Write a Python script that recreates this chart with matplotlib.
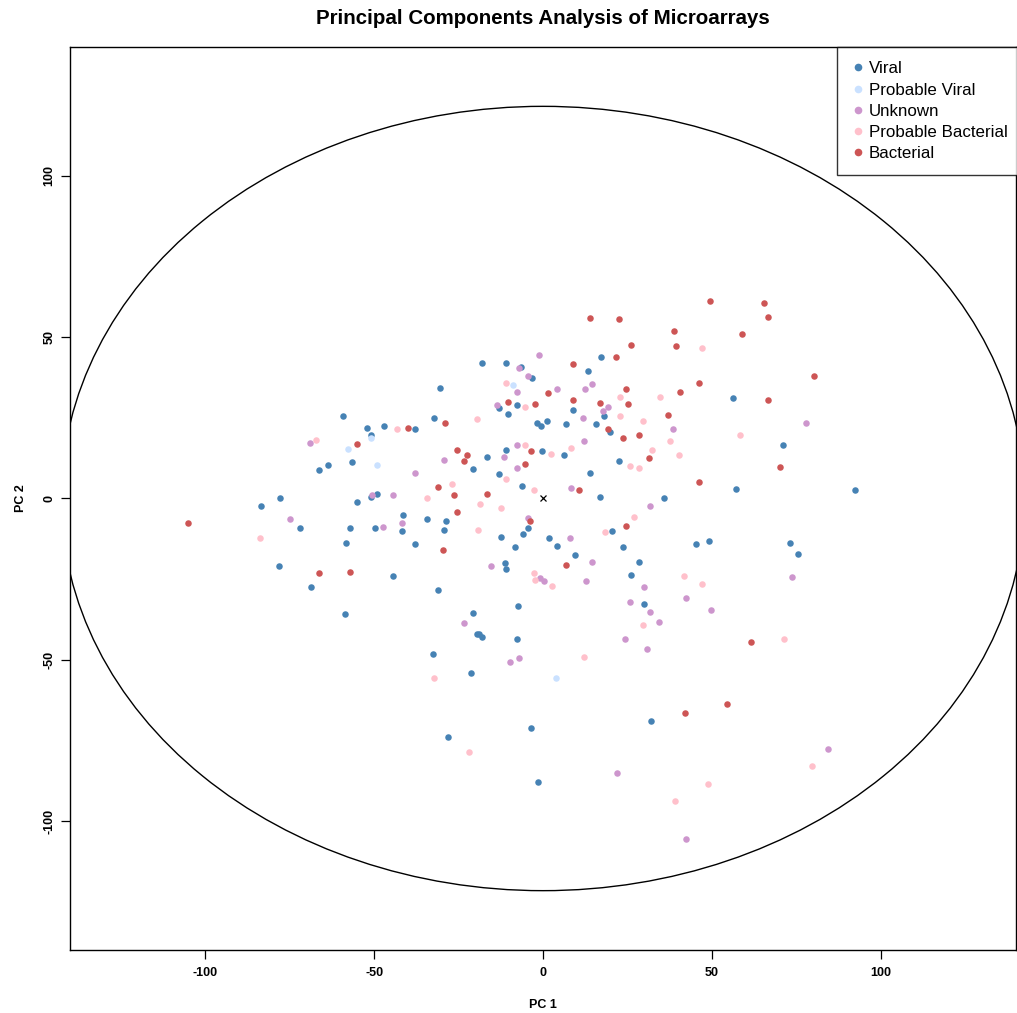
import matplotlib
matplotlib.use("Agg")
import matplotlib.pyplot as plt
from matplotlib.patches import Ellipse
from matplotlib.lines import Line2D
import numpy as np

plt.rcParams['font.family'] = ['Liberation Sans', 'DejaVu Sans']

categories = ["Viral", "Probable Viral", "Unknown", "Probable Bacterial", "Bacterial"]
colors = ["#4682B4", "#CAE1FF", "#CD96CD", "#FFC0CB", "#CD5555"]

viral_x = [-59.3, -52.2, -47.2, -51.0, -56.4, -63.5, -66.3,
           17.2, -18.2, -10.9, -6.5, 13.2, -3.2, -30.6, -13.0, -7.8, 18.1, -10.3, 8.9, -32.2,
           -38.0, -1.7, -0.7, 1.2, 6.7, 15.7, 19.7, -10.9, -0.3, 6.1, -16.7, 22.4, -20.7, -13.0, 13.8,
           56.1, 70.9,
           -77.7, -83.6, -51.0, -49.0, -55.2, -71.9, -57.1, -49.7, -41.3, -41.6, -58.3, -78.0, -44.4,
           -68.7, -58.6,
           -6.2, 16.9, -34.2, -28.7, -29.3, -4.3, -5.9, -12.3, -8.4, 1.8, 4.2, 20.3, 23.7, -38.0, 9.5,
           -11.2, -10.9, 28.3, 26.1, -31.2, -7.5, -20.7, -19.5, -18.8, -18.2, -7.8, -32.7,
           57.0, 92.4, 35.7, 45.3, 49.0, 73.1, 75.5, 29.9,
           -21.3, -3.5, -28.1, -1.6, 32.0]
viral_y = [25.6, 22.0, 22.4, 19.6, 11.4, 10.4, 8.7,
           43.8, 42.1, 42.1, 40.8, 39.5, 37.3, 34.4, 28.0, 28.9, 25.6, 26.3, 27.5, 24.9,
           21.4, 23.4, 22.5, 24.0, 23.1, 23.1, 20.7, 15.0, 14.6, 13.4, 13.0, 11.7, 9.1, 7.5, 7.9,
           31.1, 16.6,
           0.3, -2.2, 0.6, 1.3, -1.2, -9.0, -9.3, -9.0, -5.2, -10.0, -13.9, -21.0, -23.9,
           -27.4, -35.9,
           3.9, 0.6, -6.4, -7.1, -9.7, -9.1, -11.0, -12.0, -14.9, -12.3, -14.6, -10.0, -14.9, -14.2, -17.5,
           -20.1, -22.0, -19.7, -23.6, -28.5, -33.3, -35.6, -41.9, -41.9, -43.0, -43.7, -48.1,
           2.9, 2.6, 0.3, -14.2, -13.3, -13.9, -17.1, -32.6,
           -54.0, -71.2, -73.8, -88.0, -68.9]

prob_viral_x = [-50.9, -57.7, -49.0, -9.0, 3.9]
prob_viral_y = [18.7, 15.2, 10.4, 35.3, -55.7]

unknown_x = [-69.1,
             -1.3, -7.1, -4.3, 4.2, 12.3, 14.4, -7.8, -13.6, 19.3, 17.8, 11.9, 12.2, -7.8, -11.4, -29.4,
             -7.8, -38.0,
             38.5, 77.9,
             -50.6, -44.4, -74.9, -47.5, -41.6,
             8.3, -4.3, 8.0, -15.5, 14.4, -1.0, 0.3, 12.6, 25.8, -23.5, 24.4, -7.1,
             31.8, 73.7, 29.9, 42.2, 49.6, 31.8, 34.2, 30.8,
             -9.9, 21.9, 84.4, 42.2]
unknown_y = [17.2,
             44.4, 40.5, 37.9, 33.8, 34.1, 35.6, 33.0, 28.9, 28.5, 27.2, 24.9, 17.8, 16.6, 13.0, 12.0,
             9.4, 7.8,
             21.7, 23.3,
             1.0, 1.0, -6.4, -8.7, -7.5,
             3.3, -6.1, -12.3, -21.0, -19.7, -24.8, -25.6, -25.6, -32.0, -38.5, -43.7, -49.4,
             -2.3, -24.2, -27.4, -30.7, -34.6, -35.2, -38.2, -46.6,
             -50.8, -85.1, -77.6, -105.5]

prob_bact_x = [-43.2, -67.3,
               -10.9, 22.7, -5.3, 22.7, -19.5, -5.3, 8.3, 2.4, 25.7, 28.4,
               47.1, 34.5, 29.6, 58.2, 37.6, 32.2, 40.3,
               -83.9,
               -10.9, -26.8, -34.2, -18.5, -2.6, -12.3, -19.1, 27.0, 18.4, -2.6, -2.3, 2.8, 12.2,
               41.6, 47.1, 29.6, 71.2,
               -32.2, -21.9, 79.5, 48.9, 39.1]
prob_bact_y = [21.7, 18.1,
               35.9, 31.5, 28.5, 25.6, 24.6, 16.6, 15.6, 13.7, 10.2, 9.4,
               46.6, 31.5, 24.0, 19.8, 17.8, 14.9, 13.6,
               -12.2,
               6.2, 4.6, 0.0, -1.7, 2.6, -2.9, -9.7, -5.8, -10.4, -23.0, -25.2, -27.1, -49.2,
               -23.9, -26.5, -39.1, -43.7,
               -55.7, -78.7, -82.8, -88.6, -93.8]

bact_x = [-39.9, -55.2,
          13.8, 22.5, 26.1, 21.5, 8.9, 1.5, 8.9, 24.6, 25.2, -10.3, -2.3, 16.9, -29.1, 19.3, 23.7,
          28.4, -25.4, -22.6, -23.5, -3.5, -5.3,
          49.3, 65.3, 66.6, 38.8, 58.9, 39.4, 80.1, 46.2, 40.6, 66.6, 37.0, 31.5, 70.2,
          -105.1, -66.3, -57.1,
          -31.2, -26.2, -16.7, 10.7, -25.4, -3.8, 24.6, -29.7, 6.7,
          46.2, 61.6, 54.5, 41.9]
bact_y = [22.0, 16.9,
          56.0, 55.7, 47.6, 43.8, 41.8, 32.7, 30.5, 33.8, 29.2, 29.8, 29.2, 29.5, 23.3, 21.4, 18.9,
          19.8, 15.0, 13.4, 11.7, 14.6, 10.8,
          61.2, 60.6, 56.3, 51.8, 51.1, 47.3, 37.9, 35.9, 33.0, 30.4, 25.9, 12.6, 9.7,
          -7.5, -23.0, -22.7,
          3.5, 1.0, 1.3, 2.6, -4.1, -7.1, -8.4, -16.1, -20.7,
          5.2, -44.6, -63.8, -66.4]

series = [(viral_x, viral_y), (prob_viral_x, prob_viral_y), (unknown_x, unknown_y),
          (prob_bact_x, prob_bact_y), (bact_x, bact_y)]

centroid = (0.0, 0.0)
ellipse_rx, ellipse_ry = 142.6, 121.6

ticks = [-100, -50, 0, 50, 100]

fig = plt.figure(figsize=(10.17, 10.13), dpi=100)
ax = fig.add_axes([70 / 1017, 63 / 1013, 946 / 1017, 903 / 1013])

for (xs, ys), c in zip(series, colors):
    ax.scatter(xs, ys, s=22, color=c, linewidths=0, zorder=3)

ax.plot([centroid[0]], [centroid[1]], marker='x', color='black', markersize=5,
        markeredgewidth=0.9, linestyle='none', zorder=4)

ell = Ellipse((0, 0), 2 * ellipse_rx, 2 * ellipse_ry, fill=False, edgecolor='black',
              linewidth=1.0, zorder=2)
ax.add_patch(ell)

ax.set_xlim(-140, 140)
ax.set_ylim(-140, 140)
ax.set_xticks(ticks)
ax.set_yticks(ticks)
ax.set_xticklabels([str(t) for t in ticks], fontsize=9, fontweight='bold')
ax.set_yticklabels([str(t) for t in ticks], fontsize=9, fontweight='bold', rotation=90, va='center')
ax.tick_params(direction='out', length=6.5, width=0.9)
ax.tick_params(axis='x', pad=6)
ax.tick_params(axis='y', pad=4)
for sp in ax.spines.values():
    sp.set_linewidth(1.0)
    sp.set_color('black')

ax.set_xlabel("PC 1", fontsize=9, fontweight='bold', labelpad=14)
ax.set_ylabel("PC 2", fontsize=9, fontweight='bold', labelpad=12)
fig.text(543 / 1017, 1 - 19 / 1013, "Principal Components Analysis of Microarrays",
         ha='center', va='center', fontsize=14.8, fontweight='bold')

handles = [Line2D([0], [0], marker='o', color='none', markerfacecolor=c, markeredgewidth=0,
                  markersize=5.5, linestyle='none') for c in colors]
leg = ax.legend(handles, categories, loc='upper right', bbox_to_anchor=(1 + 6 / 946, 1),
                fontsize=12.2, frameon=True,
                fancybox=False, borderaxespad=0, handletextpad=0.25, handlelength=0.8,
                labelspacing=0.36, borderpad=0.85)
leg.get_frame().set_edgecolor('black')
leg.get_frame().set_linewidth(1.0)

fig.savefig("out.png", dpi=100)
